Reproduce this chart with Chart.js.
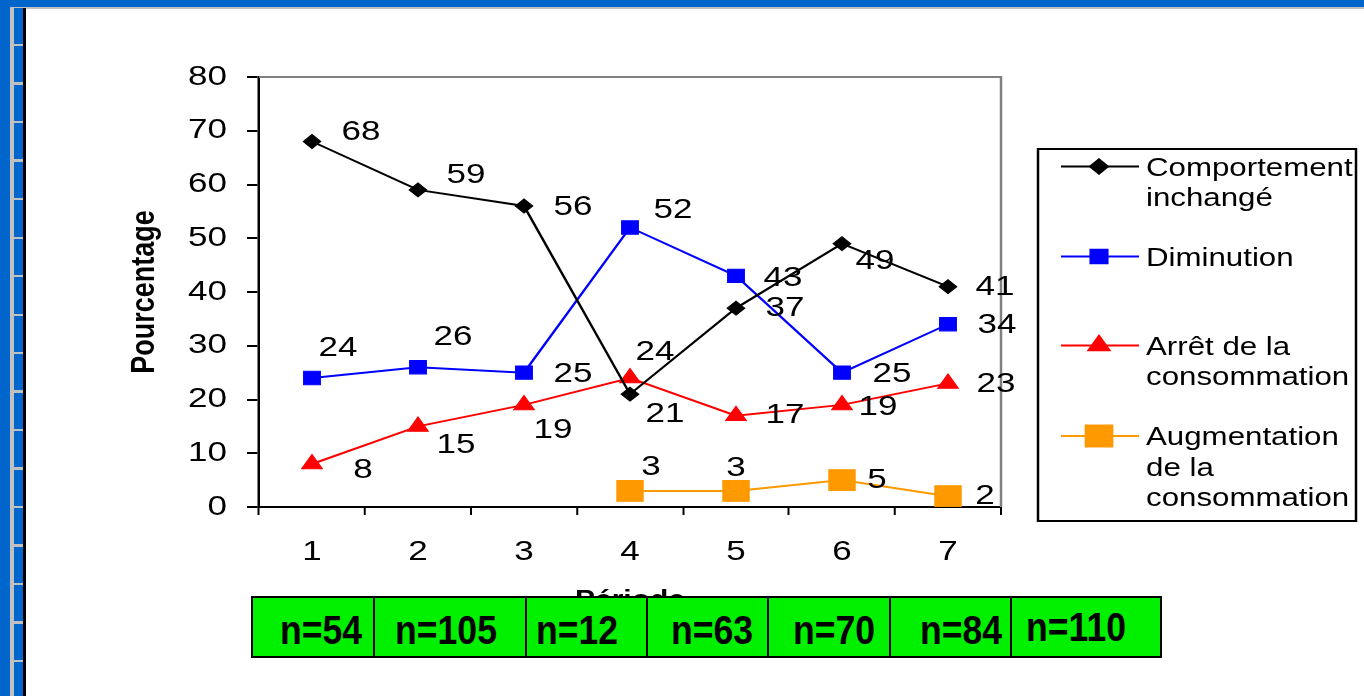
<!DOCTYPE html>
<html lang="fr">
<head>
<meta charset="utf-8">
<title>Pourcentage par période</title>
<script src="https://cdn.jsdelivr.net/npm/chart.js@4.4.1/dist/chart.umd.min.js"></script>
<style>
  body { margin: 0; width: 1364px; height: 696px; overflow: hidden; background: #fff;
         font-family: "Liberation Sans", Arial, sans-serif; position: relative; }
  .cadre { position: absolute; }
  #bleu-haut { left: 0; top: 0; width: 1364px; height: 7px; background: #0066cc; }
  #gris-haut { left: 10px; top: 7px; width: 1354px; height: 1.5px; background: #c0c0c0; }
  #bleu-gauche { left: 0; top: 0; width: 10px; height: 696px; background: #0066cc; }
  #gris-gauche { left: 10px; top: 7px; width: 4px; height: 689px; background: #c0c0c0; }
  #bande { left: 14px; top: 8px; width: 9px; height: 688px;
           background: repeating-linear-gradient(to bottom, #0066cc 0, #0066cc 36px, #c0c0c0 36px, #c0c0c0 38.5px); }
  #noir-gauche { left: 23px; top: 8px; width: 3px; height: 688px; background: #000; }
  #graphique { position: absolute; left: 0; top: 0; }
  .case { position: absolute; box-sizing: border-box; border: 2px solid #000; background: #00f000; }
  .effectif { position: absolute; font-weight: bold; font-size: 40px; color: #000; white-space: nowrap;
              transform: translate(-50%, -50%) scaleX(0.89); line-height: 1; }
</style>
</head>
<body>
<div class="cadre" id="bleu-haut"></div>
<div class="cadre" id="bleu-gauche"></div>
<div class="cadre" id="gris-haut"></div>
<div class="cadre" id="gris-gauche"></div>
<div class="cadre" id="bande"></div>
<div class="cadre" id="noir-gauche"></div>
<canvas id="graphique" width="1364" height="696"></canvas>
<div id="effectifs"></div>

<script>
// Données
const periodes = ['1', '2', '3', '4', '5', '6', '7'];
const comportementInchange = [68, 59, 56, 21, 37, 49, 41];
const diminution = [24, 26, 25, 52, 43, 25, 34];
const arretConsommation = [8, 15, 19, 24, 17, 19, 23];
const augmentationConsommation = [null, null, null, 3, 3, 5, 2];
const effectifs = ['n=54', 'n=105', 'n=12', 'n=63', 'n=70', 'n=84', 'n=110'];

// Légende (une ligne par entrée du tableau)
const legendeComportement = ['Comportement', 'inchangé'];
const legendeDiminution = ['Diminution'];
const legendeArret = ['Arrêt de la', 'consommation'];
const legendeAugmentation = ['Augmentation', 'de la', 'consommation'];

// Le dessin est étiré horizontalement
const ETIREMENT = 1.25;

// Décalage des étiquettes de valeur par rapport au point (px écran)
const decalComportement = [[49, -9], [48, -15], [49, 1], [35, 20], [49, 0], [33, 18], [47, 1]];
const decalDiminution = [[26, -30], [35, -30], [49, 2], [43, -17], [47, 2], [50, 2], [49, 1]];
const decalArret = [[51, 6], [38, 19], [29, 25], [25, -26], [49, 0], [36, 2], [48, 1]];
const decalAugmentation = [null, null, null, [21, -24], [0, -23], [35, 0], [37, 0]];

// Cases des effectifs sous l'axe
const bordsCases = [252, 374, 526, 647, 768, 890, 1011, 1161];
const centresEffectifs = [321, 446, 577, 712, 834, 961, 1076];

const police = '"Liberation Sans", Arial, sans-serif';
Chart.defaults.font.family = police;
Chart.defaults.color = '#000';

const series = [
  { label: 'Comportement inchangé', data: comportementInchange, couleur: '#000000', style: 'rectRot', rayon: 7,
    lignes: legendeComportement, decal: decalComportement },
  { label: 'Diminution', data: diminution, couleur: '#0000ff', style: 'rect', rayon: 9.4,
    lignes: legendeDiminution, decal: decalDiminution },
  { label: 'Arrêt de la consommation', data: arretConsommation, couleur: '#ff0000', style: 'triangle', rayon: 9.5,
    lignes: legendeArret, decal: decalArret },
  { label: 'Augmentation de la consommation', data: augmentationConsommation, couleur: '#ff9900', style: 'rect', rayon: 14.8,
    lignes: legendeAugmentation, decal: decalAugmentation }
];

const etirement = {
  id: 'etirement',
  beforeDraw(chart) {
    chart.ctx.setTransform(ETIREMENT, 0, 0, 1, 0, 0);
  }
};

// Bordure grise haut / droite de la zone de tracé
const bordureZone = {
  id: 'bordureZone',
  beforeDatasetsDraw(chart) {
    const { ctx, chartArea: a } = chart;
    ctx.save();
    ctx.strokeStyle = '#808080';
    ctx.lineWidth = 2;
    ctx.beginPath();
    ctx.moveTo(a.left, a.top);
    ctx.lineTo(a.right, a.top);
    ctx.lineTo(a.right, a.bottom);
    ctx.stroke();
    ctx.restore();
  }
};

const etiquettesValeurs = {
  id: 'etiquettesValeurs',
  afterDatasetsDraw(chart) {
    const ctx = chart.ctx;
    ctx.save();
    ctx.font = '28px ' + police;
    ctx.fillStyle = '#000';
    ctx.textAlign = 'center';
    ctx.textBaseline = 'middle';
    chart.data.datasets.forEach((ds, i) => {
      const meta = chart.getDatasetMeta(i);
      meta.data.forEach((pt, j) => {
        const v = ds.data[j];
        const d = series[i].decal[j];
        if (v === null || !d) return;
        ctx.fillText(String(v), pt.x + d[0] / ETIREMENT, pt.y + d[1]);
      });
    });
    ctx.restore();
  }
};

// Légende encadrée à droite
const legende = {
  id: 'legende',
  afterDraw(chart) {
    const ctx = chart.ctx;
    const bx = 1038 / ETIREMENT, bx2 = 1356 / ETIREMENT;
    const by = 149, by2 = 521;
    const traitX1 = 1061 / ETIREMENT, traitX2 = 1139 / ETIREMENT, centreX = 1099 / ETIREMENT;
    const texteX = 1146 / ETIREMENT;
    const lignesY = [166.5, 256.5, 345.5, 436];
    ctx.save();
    ctx.strokeStyle = '#000';
    ctx.lineWidth = 2;
    ctx.strokeRect(bx, by, bx2 - bx, by2 - by);
    ctx.font = '25px ' + police;
    ctx.textAlign = 'left';
    ctx.textBaseline = 'alphabetic';
    series.forEach((s, i) => {
      const y = lignesY[i];
      ctx.strokeStyle = s.couleur;
      ctx.fillStyle = s.couleur;
      ctx.lineWidth = 2;
      ctx.beginPath();
      ctx.moveTo(traitX1, y);
      ctx.lineTo(traitX2, y);
      ctx.stroke();
      Chart.helpers.drawPoint(ctx, { pointStyle: s.style, radius: s.rayon, rotation: 0, borderWidth: 1 }, centreX, y);
      ctx.fillStyle = '#000';
      s.lignes.forEach((t, k) => {
        ctx.fillText(t, texteX, y + 9 + k * 30.5);
      });
    });
    ctx.restore();
  }
};

const ctx = document.getElementById('graphique').getContext('2d');
const graphique = new Chart(ctx, {
  type: 'line',
  data: {
    labels: periodes,
    datasets: series.map(s => ({
      label: s.label,
      data: s.data,
      borderColor: s.couleur,
      backgroundColor: s.couleur,
      borderWidth: 2,
      pointStyle: s.style,
      pointRadius: s.rayon,
      pointBorderWidth: 1,
      pointBackgroundColor: s.couleur,
      pointBorderColor: s.couleur,
      tension: 0
    }))
  },
  options: {
    responsive: false,
    animation: false,
    devicePixelRatio: 1,
    layout: { padding: { left: 80, top: 77, right: 1364 - 1001 / ETIREMENT, bottom: 81.6 } },
    plugins: { legend: { display: false }, tooltip: { enabled: false } },
    scales: {
      x: {
        type: 'category',
        offset: true,
        grid: { offset: true, drawOnChartArea: false, tickLength: 8, color: '#000', lineWidth: 1.6 },
        border: { color: '#000', width: 2 },
        ticks: { font: { size: 28 }, color: '#000', padding: 20, maxRotation: 0 },
        title: { display: true, text: 'Période', font: { size: 24, weight: 'bold' }, color: '#000', padding: 0 },
        afterFit(scale) { scale.height = 107.4; }
      },
      y: {
        min: 0,
        max: 80,
        grid: { drawOnChartArea: false, tickLength: 9.6, color: '#000', lineWidth: 2 },
        border: { color: '#000', width: 2 },
        ticks: { stepSize: 10, font: { size: 28 }, color: '#000', padding: 16 },
        title: { display: true, text: 'Pourcentage', font: { size: 27, weight: 'bold' }, color: '#000',
                 padding: { top: 19.8, bottom: 0 } },
        afterFit(scale) { scale.width = 1001 / ETIREMENT - 80 - (1001 - 259) / ETIREMENT; }
      }
    }
  },
  plugins: [etirement, bordureZone, etiquettesValeurs, legende]
});

// Cases vertes des effectifs
const zone = document.getElementById('effectifs');
effectifs.forEach((txt, i) => {
  const c = document.createElement('div');
  c.className = 'case';
  c.style.left = (bordsCases[i] - 1) + 'px';
  c.style.top = '596px';
  c.style.width = (bordsCases[i + 1] - bordsCases[i] + 2) + 'px';
  c.style.height = '62px';
  zone.appendChild(c);
  const s = document.createElement('span');
  s.className = 'effectif';
  s.textContent = txt;
  s.style.left = centresEffectifs[i] + 'px';
  s.style.top = (i === 6 ? 627 : 630) + 'px';
  zone.appendChild(s);
});
</script>
</body>
</html>
